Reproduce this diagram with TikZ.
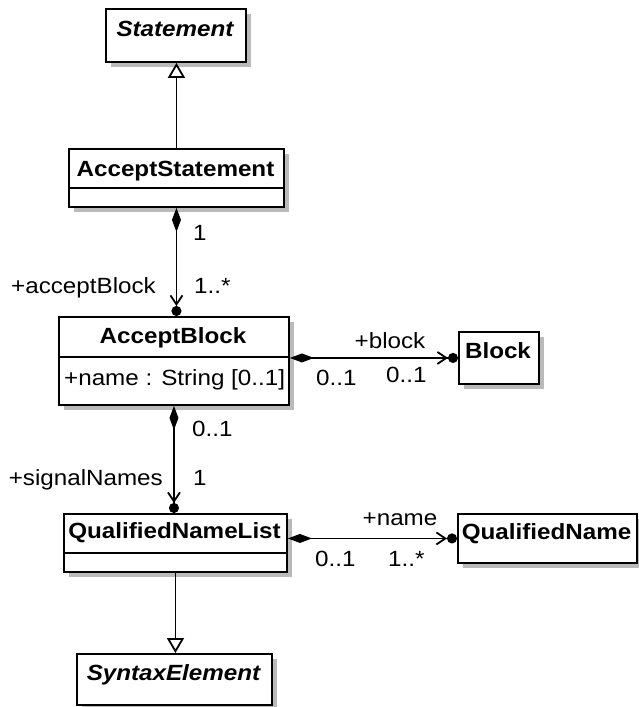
\documentclass[tikz,border=0pt]{standalone}
\usepackage{fontspec}
\setmainfont{Liberation Sans}[FakeStretch=1.1]
\usetikzlibrary{arrows.meta,shadows}
\begin{document}
\begin{tikzpicture}[x=1pt,y=-1pt,
  classbox/.style={draw, line width=1.9pt, fill=white, inner sep=0pt, anchor=north west,
    drop shadow={shadow xshift=5.5pt, shadow yshift=-5.5pt, fill=black!27, opacity=1}},
  sepline/.style={line width=1.7pt},
  nametext/.style={inner sep=0pt, anchor=base, font=\fontsize{22}{26}\selectfont\bfseries},
  abstext/.style={nametext, font=\fontsize{22}{26}\selectfont\bfseries\itshape},
  lbl/.style={inner sep=0pt, font=\fontsize{22}{26}\selectfont},
  gen/.style={draw, line width=1.9pt, -{Triangle[open, length=15pt, width=17pt, line width=1.8pt]}},
  comp/.style={draw, line width=1.9pt, {Diamond[length=24pt, width=9pt]}-{Straight Barb[length=9pt, width=12pt, line width=1.8pt] Circle[length=10pt]}}
]
\useasboundingbox (0,0) rectangle (639,707);

% boxes
\node[classbox, minimum width=140pt, minimum height=53pt] (st) at (105,8) {};
\node[classbox, minimum width=215pt, minimum height=58pt] (as) at (68,148) {};
\node[classbox, minimum width=230pt, minimum height=88pt] (ab) at (58,316) {};
\node[classbox, minimum width=80pt, minimum height=52pt] (blk) at (458,331) {};
\node[classbox, minimum width=223pt, minimum height=58pt] (qnl) at (63,513) {};
\node[classbox, minimum width=179pt, minimum height=49pt] (qn) at (457,513) {};
\node[classbox, minimum width=195pt, minimum height=51pt] (se) at (76,653) {};

% separators
\draw[sepline] ([yshift=-40pt]as.north west) -- ([yshift=-40pt]as.north east);
\draw[sepline] ([yshift=-41pt]ab.north west) -- ([yshift=-41pt]ab.north east);
\draw[sepline] ([yshift=-40pt]qnl.north west) -- ([yshift=-40pt]qnl.north east);

% names
\node[abstext] (sttxt) at (175,36) {Statement};
\node[nametext] (astxt) at (175.5,176) {AcceptStatement};
\node[nametext] (abtxt) at (173,343) {AcceptBlock};
\node[lbl, anchor=base west] (abattr) at (64,385) {+name : String [0..1]};
\node[nametext] (blktxt) at (498,358) {Block};
\node[nametext] (qnltxt) at (174.5,538) {QualifiedNameList};
\node[nametext] (qntxt) at (546.5,539) {QualifiedName};
\node[abstext] (setxt) at (173.5,680) {SyntaxElement};

% connectors
\draw[gen] (as.north) -- (as.north |- st.south);
\draw[comp] (as.south) -- (as.south |- ab.north);
\draw[comp] ([yshift=3pt]ab.east) -- (blk.west);
\draw[comp] (ab.south) -- (ab.south |- qnl.north);
\draw[comp] (qnl.east |- qn.west) -- (qn.west);
\draw[gen] (qnl.south) -- (qnl.south |- se.north);

% labels
\node[lbl, anchor=base west] (m1) at (193,240) {1};
\node[lbl, anchor=base east] (r1) at (156,293) {+acceptBlock};
\node[lbl, anchor=base west] (m2) at (194,293) {1..*};
\node[lbl, anchor=base] (r2) at (390,348) {+block};
\node[lbl, anchor=base west] (m3) at (316,385) {0..1};
\node[lbl, anchor=base west] (m4) at (386,382) {0..1};
\node[lbl, anchor=base west] (m5) at (192,436) {0..1};
\node[lbl, anchor=base east] (r3) at (163,485) {+signalNames};
\node[lbl, anchor=base west] (m6) at (193,485) {1};
\node[lbl, anchor=base] (r4) at (400,525) {+name};
\node[lbl, anchor=base west] (m7) at (315,566) {0..1};
\node[lbl, anchor=base west] (m8) at (388,566) {1..*};
\end{tikzpicture}
\end{document}
